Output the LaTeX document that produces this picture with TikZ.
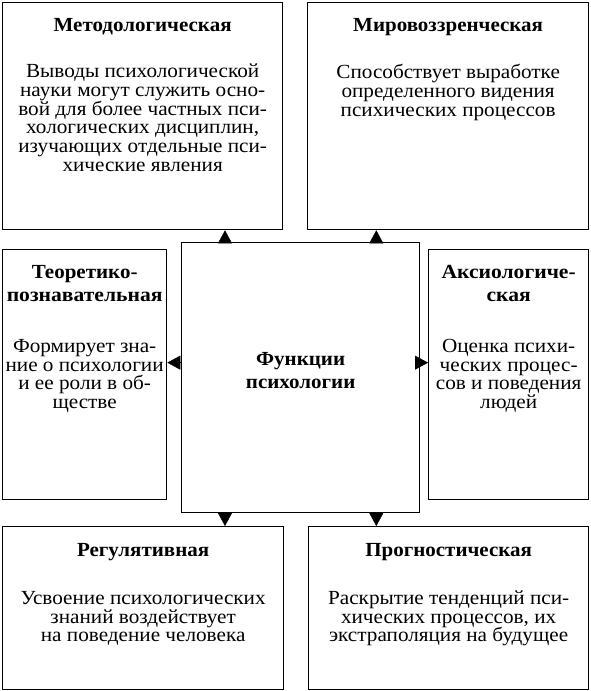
\documentclass[tikz,border=0pt]{standalone}
\usepackage{fontspec}
\setmainfont{Liberation Serif}[FakeStretch=1.06]
\newfontfamily\headfont{Liberation Serif Bold}[FakeStretch=1.05]
\newfontfamily\headfontwide{Liberation Serif Bold}[FakeStretch=1.08]
\usetikzlibrary{arrows.meta,positioning}

\newcommand\funcfont{\fontsize{20}{18.7}\selectfont\lineskiplimit=-20pt\relax}

\tikzstyle{func} = [rectangle, draw, line width=1.3pt, inner sep=0pt,
    anchor=north west]
\tikzstyle{functext} = [align=center, anchor=north, inner sep=0pt,
    font=\funcfont]
\tikzstyle{arr} = [-{Triangle[width=14pt,length=13pt]}, line width=0.4pt]

\begin{document}
\begin{tikzpicture}[x=1pt,y=-1pt]
	\useasboundingbox (0,0) rectangle (591,691);
	% boxes
	\node [func, minimum width=280pt, minimum height=227pt] (met) at (2,2) {};
	\node [func, minimum width=281pt, minimum height=227pt] (mir) at (307,2) {};
	\node [func, minimum width=164pt, minimum height=250pt] (teo) at (2,249) {};
	\node [func, minimum width=160pt, minimum height=250pt] (aks) at (428,249) {};
	\node [func, minimum width=238pt, minimum height=270pt] (ctr) at (181,242) {};
	\node [func, minimum width=281pt, minimum height=163pt] (reg) at (2,526) {};
	\node [func, minimum width=280pt, minimum height=163pt] (pro) at (308,526) {};
	%
	\node [functext] (metT) at ([yshift=-16pt]met.north) {{\headfont Методологическая}\\[27.8pt]
		Выводы психологической\\ науки могут служить осно-\\ вой для более частных пси-\\
		хологических дисциплин,\\ изучающих отдельные пси-\\ хические явления};
	\node [functext] (mirT) at ([yshift=-16pt]mir.north) {{\headfont Мировоззренческая}\\[29pt]
		Способствует выработке\\ определенного видения\\ психических процессов};
	\node [functext] (teoT) at ([yshift=-16pt]teo.north) {{\headfont Теоретико-}\\[4.3pt]
		{\headfontwide познавательная}\\[32.3pt]
		Формирует зна-\\ ние о психологии\\ и ее роли в об-\\ ществе};
	\node [functext] (aksT) at ([yshift=-16pt]aks.north) {{\headfontwide Аксиологиче-}\\[4.3pt]
		{\headfontwide ская}\\[32.3pt]
		Оценка психи-\\ ческих процес-\\ сов и поведения\\ людей};
	\node [functext, anchor=center] (ctrT) at ([yshift=7pt]ctr.center) {{\headfont Функции}\\[4.3pt]
		{\headfont психологии}};
	\node [functext] (regT) at ([yshift=-17pt]reg.north) {{\headfont Регулятивная}\\[29.3pt]
		Усвоение психологических\\ знаний воздействует\\ на поведение человека};
	\node [functext] (proT) at ([yshift=-17pt]pro.north) {{\headfont Прогностическая}\\[29.3pt]
		Раскрытие тенденций пси-\\ хических процессов, их\\ экстраполяция на будущее};
	% arrows
	\coordinate (ua) at ([xshift=44pt]ctr.north west);
	\coordinate (ub) at ([xshift=-44pt]ctr.north east);
	\coordinate (da) at ([xshift=44pt]ctr.south west);
	\coordinate (db) at ([xshift=-44pt]ctr.south east);
	\coordinate (la) at ([yshift=15pt]ctr.west);
	\coordinate (ra) at ([yshift=15pt]ctr.east);
	\draw [arr] (ua) -- (ua |- met.south);
	\draw [arr] (ub) -- (ub |- mir.south);
	\draw [arr] (da) -- (da |- reg.north);
	\draw [arr] (db) -- (db |- pro.north);
	\draw [arr] (la) -- (la -| teo.east);
	\draw [arr] (ra) -- (ra -| aks.west);
\end{tikzpicture}
\end{document}
